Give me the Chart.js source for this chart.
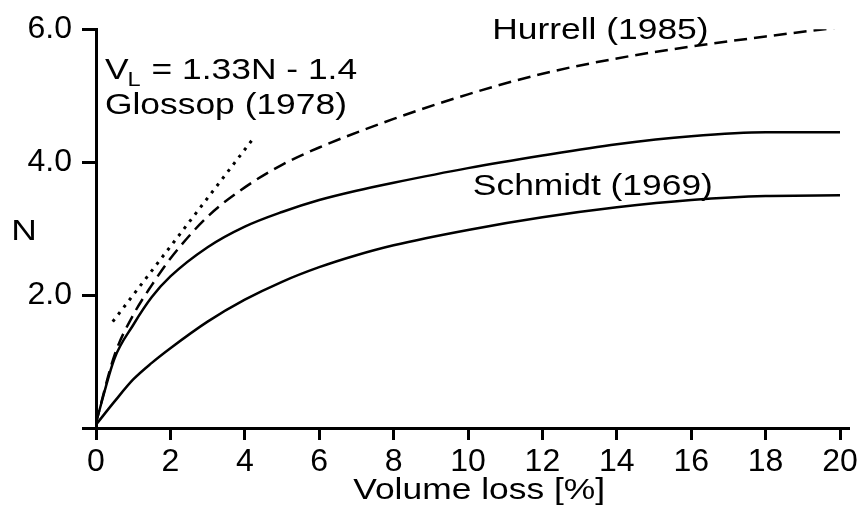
<!DOCTYPE html>
<html>
<head>
<meta charset="utf-8">
<script src="https://cdn.jsdelivr.net/npm/chart.js@4.4.1/dist/chart.umd.min.js"></script>
<style>
  html, body { margin: 0; padding: 0; background: #fff; }
  #wrap { width: 862px; height: 516px; position: relative; }
</style>
</head>
<body>
<div id="wrap"><canvas id="grafica"></canvas></div>
<script>
// volume loss [%] vs N
const hurrellX = [0, 0.5, 1, 1.5, 2, 3, 4, 5, 6, 8, 10, 12, 14, 16, 18, 20];
const hurrellN = [0.08, 1.1, 1.7, 2.15, 2.55, 3.18, 3.62, 3.96, 4.22, 4.65, 5.02, 5.33, 5.56, 5.74, 5.89, 6.03];

const schmidtUpX = [0, 0.5, 1, 1.5, 2, 3, 4, 5, 6, 7, 8, 10, 12, 14, 16, 18, 20];
const schmidtUpN = [0.08, 1.05, 1.55, 1.97, 2.28, 2.72, 3.03, 3.25, 3.43, 3.57, 3.69, 3.91, 4.1, 4.27, 4.39, 4.45, 4.45];

const schmidtLowX = [0, 0.5, 1, 1.5, 2, 3, 4, 5, 6, 7, 8, 10, 12, 14, 16, 18, 20];
const schmidtLowN = [0.05, 0.4, 0.73, 0.98, 1.2, 1.6, 1.93, 2.2, 2.42, 2.6, 2.75, 2.98, 3.17, 3.32, 3.43, 3.49, 3.5];

const glossopX = [0.45, 4.22];
const glossopN = [1.6, 4.35];

const xTicks = [0, 2, 4, 6, 8, 10, 12, 14, 16, 18, 20];
const yTicks = [0, 2, 4, 6];

const FONT = '"Liberation Sans", Arial, Helvetica, sans-serif';
const STRETCH = 1.18;

function pts(xs, ys) {
    return xs.map((x, i) => ({ x: x, y: ys[i] }));
}

// text labels placed in data units
const labels = [
    { text: 'Hurrell (1985)', x: 10.65, y: 5.85 },
    { text: 'Schmidt (1969)', x: 10.13, y: 3.51 },
    { text: 'Glossop (1978)', x: 0.24, y: 4.73 }
];

const textPlugin = {
    id: 'textos',
    afterDraw(chart) {
        const ctx = chart.ctx;
        const xs = chart.scales.x;
        const ys = chart.scales.y;
        ctx.save();
        ctx.fillStyle = '#000';

        function put(txt, px, py, size, align, base) {
            ctx.save();
            ctx.font = size + 'px ' + FONT;
            ctx.textAlign = align || 'left';
            ctx.textBaseline = base || 'alphabetic';
            ctx.translate(px, py);
            ctx.scale(STRETCH, 1);
            ctx.fillText(txt, 0, 0);
            const w = ctx.measureText(txt).width * STRETCH;
            ctx.restore();
            return w;
        }

        labels.forEach(l => put(l.text, xs.getPixelForValue(l.x), ys.getPixelForValue(l.y), 30));

        // V_L = 1.33N - 1.4
        let px = xs.getPixelForValue(0.24);
        const py = ys.getPixelForValue(5.25);
        px += put('V', px, py, 30);
        px += put('L', px - 1, py + 7, 20);
        put(' = 1.33N - 1.4', px, py, 30);

        // axis titles
        put('N', ys.left + 24, ys.getPixelForValue(2.96), 30, 'center', 'middle');
        put('Volume loss [%]', xs.getPixelForValue(10.3), xs.bottom - 25, 30, 'center', 'middle');
        ctx.restore();
    }
};

const lineBase = {
    borderColor: '#000',
    backgroundColor: '#000',
    pointRadius: 0,
    fill: false,
    cubicInterpolationMode: 'monotone'
};

const config = {
    type: 'line',
    data: {
        datasets: [
            Object.assign({}, lineBase, { label: 'Hurrell (1985)', data: pts(hurrellX, hurrellN), borderWidth: 2.5, borderDash: [13, 7] }),
            Object.assign({}, lineBase, { label: 'Schmidt (1969) upper', data: pts(schmidtUpX, schmidtUpN), borderWidth: 2.5 }),
            Object.assign({}, lineBase, { label: 'Schmidt (1969) lower', data: pts(schmidtLowX, schmidtLowN), borderWidth: 2.5 }),
            Object.assign({}, lineBase, { label: 'Glossop (1978)', data: pts(glossopX, glossopN), borderWidth: 3, borderDash: [3, 6], tension: 0 })
        ]
    },
    options: {
        responsive: true,
        maintainAspectRatio: false,
        animation: false,
        devicePixelRatio: 1,
        layout: { padding: { left: 0, top: 25, right: 14, bottom: 0 } },
        plugins: {
            legend: { display: false },
            tooltip: { enabled: false }
        },
        scales: {
            x: {
                type: 'linear',
                min: 0,
                max: 20.215,
                afterFit: s => { s.height = 88; },
                afterBuildTicks: s => { s.ticks = xTicks.map(v => ({ value: v })); },
                border: { display: true, color: '#000', width: 3 },
                grid: { drawOnChartArea: false, color: '#000', lineWidth: 3, tickLength: 12 },
                ticks: {
                    autoSkip: false,
                    maxRotation: 0,
                    padding: 3,
                    color: '#000',
                    font: { family: FONT, size: 32, lineHeight: 1.2 },
                    callback: v => String(v)
                }
            },
            y: {
                type: 'linear',
                min: 0,
                max: 6,
                afterFit: s => { s.width = 96; },
                afterBuildTicks: s => { s.ticks = yTicks.map(v => ({ value: v })); },
                border: { display: true, color: '#000', width: 3 },
                grid: { drawOnChartArea: false, color: '#000', lineWidth: 3, tickLength: 14 },
                ticks: {
                    autoSkip: false,
                    padding: 10,
                    color: '#000',
                    font: { family: FONT, size: 32, lineHeight: 1.2 },
                    callback: v => (v === 0 ? '' : v.toFixed(1))
                }
            }
        }
    },
    plugins: [textPlugin]
};

const grafica = new Chart(document.getElementById('grafica'), config);
</script>
</body>
</html>
